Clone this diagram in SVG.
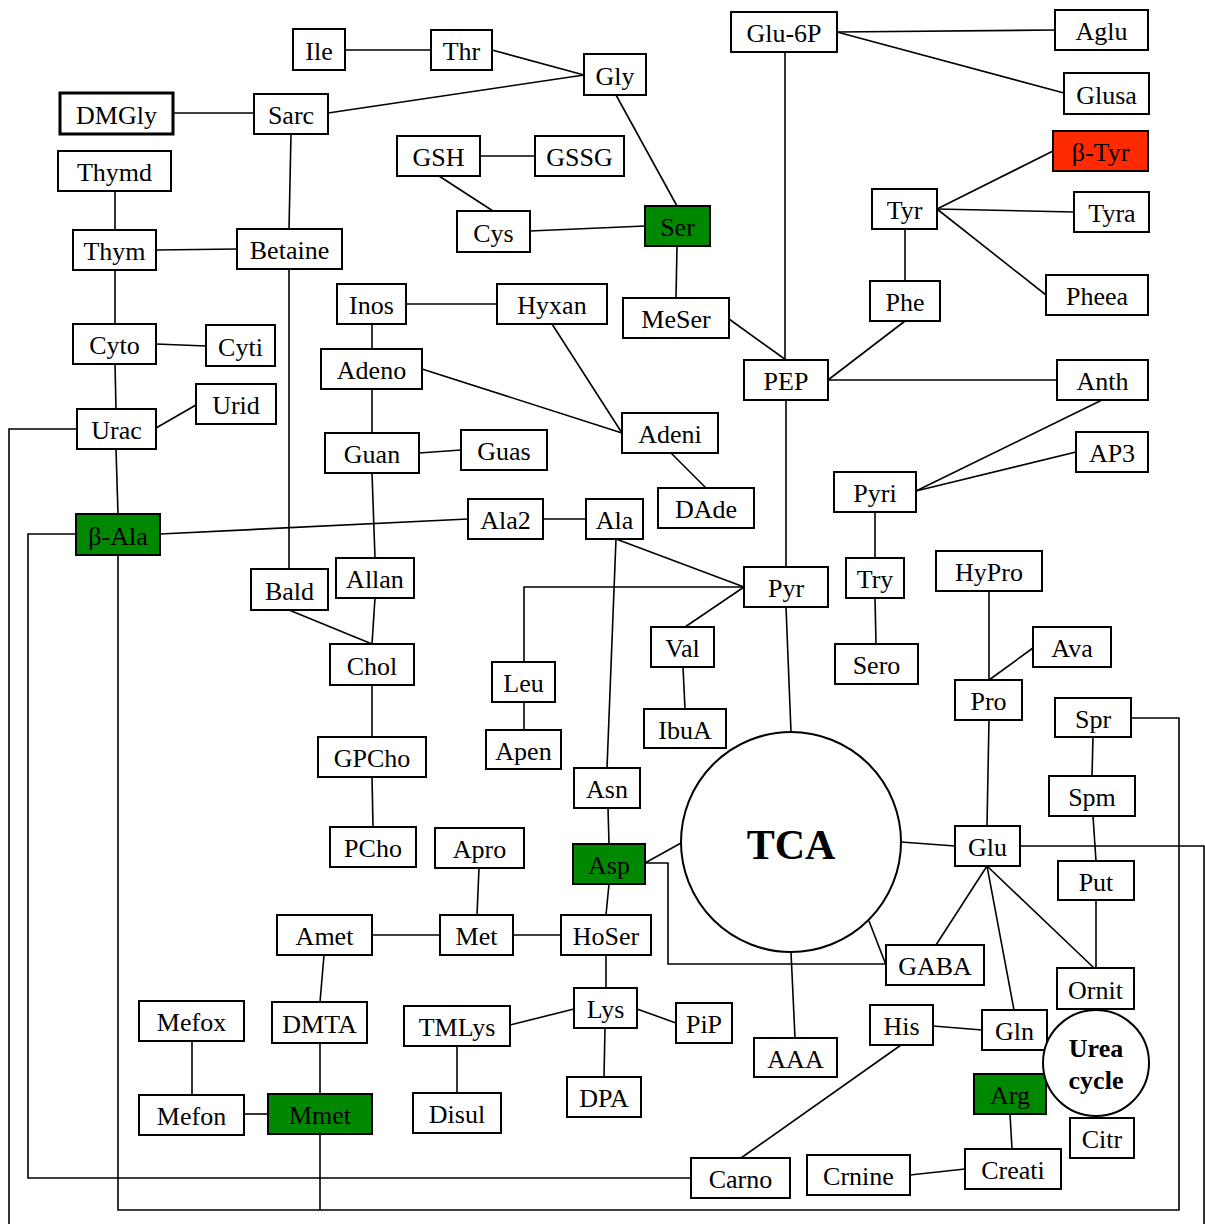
<svg xmlns="http://www.w3.org/2000/svg" width="1205" height="1224" viewBox="0 0 1205 1224">
<style>
rect{fill:#fff;stroke:#000;stroke-width:2}
rect.g{fill:#008800}
rect.r{fill:#ff2a00}
rect.thick{stroke-width:3}
circle{fill:#fff;stroke:#000;stroke-width:2}
text{font-family:"Liberation Serif","Times New Roman",serif;font-size:26px;text-anchor:middle;fill:#000}
text.b{font-weight:bold}
#connectors line,#connectors polyline{stroke:#000;stroke-width:1.6;fill:none}
</style>
<rect x="0" y="0" width="1205" height="1224" style="fill:#fff;stroke:none"/>
<g id="connectors">
<line x1="345" y1="50" x2="431" y2="50"/>
<line x1="492" y1="50" x2="584" y2="75"/>
<line x1="328" y1="113" x2="584" y2="75"/>
<line x1="173" y1="113" x2="254" y2="113"/>
<line x1="291" y1="134" x2="289" y2="229"/>
<line x1="115" y1="191" x2="115" y2="230"/>
<line x1="156" y1="250" x2="237" y2="249"/>
<line x1="115" y1="270" x2="115" y2="324"/>
<line x1="156" y1="344" x2="206" y2="346"/>
<line x1="115" y1="364" x2="116" y2="409"/>
<line x1="156" y1="428" x2="196" y2="405"/>
<polyline points="77,429 9,429 9,1224"/>
<line x1="116" y1="449" x2="118" y2="514"/>
<polyline points="76,534 28,534 28,1178 691,1178"/>
<polyline points="118,555 118,1210 1179,1210 1179,718 1131,718"/>
<line x1="320" y1="1134" x2="320" y2="1210"/>
<line x1="160" y1="534" x2="468" y2="519"/>
<line x1="543" y1="519" x2="586" y2="519"/>
<line x1="289" y1="269" x2="289" y2="569"/>
<line x1="289" y1="610" x2="372" y2="644"/>
<line x1="375" y1="598" x2="372" y2="644"/>
<line x1="372" y1="473" x2="375" y2="558"/>
<line x1="372" y1="389" x2="372" y2="433"/>
<line x1="372" y1="324" x2="372" y2="349"/>
<line x1="406" y1="304" x2="497" y2="304"/>
<line x1="552" y1="324" x2="622" y2="433"/>
<line x1="422" y1="369" x2="622" y2="433"/>
<line x1="419" y1="453" x2="461" y2="450"/>
<line x1="671" y1="453" x2="706" y2="488"/>
<line x1="372" y1="685" x2="372" y2="737"/>
<line x1="372" y1="777" x2="373" y2="827"/>
<line x1="480" y1="156" x2="535" y2="156"/>
<line x1="439" y1="176" x2="493" y2="211"/>
<line x1="530" y1="231" x2="645" y2="226"/>
<line x1="616" y1="95" x2="677" y2="206"/>
<line x1="677" y1="246" x2="676" y2="298"/>
<line x1="729" y1="319" x2="786" y2="360"/>
<line x1="785" y1="52" x2="785" y2="360"/>
<line x1="837" y1="32" x2="1055" y2="30"/>
<line x1="837" y1="32" x2="1064" y2="93"/>
<line x1="937" y1="209" x2="1053" y2="151"/>
<line x1="937" y1="209" x2="1074" y2="212"/>
<line x1="937" y1="209" x2="1046" y2="295"/>
<line x1="905" y1="229" x2="905" y2="281"/>
<line x1="905" y1="321" x2="828" y2="380"/>
<line x1="828" y1="380" x2="1057" y2="380"/>
<line x1="1102" y1="400" x2="916" y2="491"/>
<line x1="1076" y1="452" x2="916" y2="491"/>
<line x1="875" y1="512" x2="875" y2="558"/>
<line x1="875" y1="598" x2="876" y2="644"/>
<line x1="786" y1="400" x2="786" y2="567"/>
<line x1="616" y1="539" x2="744" y2="587"/>
<line x1="616" y1="539" x2="607" y2="768"/>
<polyline points="744,587 524,587 524,662"/>
<line x1="744" y1="587" x2="685" y2="627"/>
<line x1="683" y1="667" x2="685" y2="709"/>
<line x1="524" y1="702" x2="524" y2="730"/>
<line x1="786" y1="607" x2="791" y2="732"/>
<line x1="608" y1="808" x2="609" y2="844"/>
<line x1="645" y1="863" x2="681" y2="843"/>
<polyline points="645,863 668,863 668,964 886,964"/>
<line x1="869" y1="921" x2="886" y2="965"/>
<line x1="791" y1="952" x2="795" y2="1038"/>
<line x1="901" y1="842" x2="955" y2="846"/>
<polyline points="1020,846 1204,846 1204,1224"/>
<line x1="989" y1="591" x2="989" y2="680"/>
<line x1="1033" y1="648" x2="989" y2="680"/>
<line x1="989" y1="720" x2="987" y2="826"/>
<line x1="1093" y1="737" x2="1092" y2="776"/>
<line x1="1093" y1="816" x2="1096" y2="861"/>
<line x1="1096" y1="900" x2="1096" y2="968"/>
<line x1="987" y1="866" x2="1094" y2="968"/>
<line x1="987" y1="866" x2="936" y2="945"/>
<line x1="987" y1="866" x2="1014" y2="1010"/>
<line x1="933" y1="1026" x2="982" y2="1030"/>
<line x1="901" y1="1045" x2="741" y2="1158"/>
<line x1="1010" y1="1114" x2="1012" y2="1149"/>
<line x1="910" y1="1175" x2="965" y2="1169"/>
<line x1="479" y1="868" x2="477" y2="915"/>
<line x1="372" y1="935" x2="440" y2="935"/>
<line x1="513" y1="935" x2="561" y2="935"/>
<line x1="609" y1="884" x2="606" y2="915"/>
<line x1="606" y1="955" x2="606" y2="988"/>
<line x1="574" y1="1009" x2="510" y2="1025"/>
<line x1="637" y1="1009" x2="676" y2="1023"/>
<line x1="605" y1="1028" x2="604" y2="1077"/>
<line x1="457" y1="1046" x2="457" y2="1093"/>
<line x1="324" y1="955" x2="320" y2="1002"/>
<line x1="320" y1="1043" x2="320" y2="1094"/>
<line x1="192" y1="1041" x2="192" y2="1095"/>
<line x1="244" y1="1114" x2="268" y2="1114"/>
</g>
<g id="TCA"><circle cx="791" cy="842" r="110"/><text class="b" x="791" y="859" style="font-size:42px">TCA</text></g>
<g id="Ile"><rect x="293" y="29" width="52" height="41"/><text x="319" y="60">Ile</text></g>
<g id="Thr"><rect x="431" y="30" width="61" height="40"/><text x="461.5" y="60">Thr</text></g>
<g id="Gly"><rect x="584" y="54" width="62" height="41"/><text x="615" y="85">Gly</text></g>
<g id="DMGly"><rect class="thick" x="60" y="93" width="113" height="41"/><text x="116.5" y="124">DMGly</text></g>
<g id="Sarc"><rect x="254" y="94" width="74" height="40"/><text x="291" y="124">Sarc</text></g>
<g id="Glu-6P"><rect x="731" y="12" width="106" height="40"/><text x="784" y="42">Glu-6P</text></g>
<g id="Aglu"><rect x="1055" y="10" width="93" height="40"/><text x="1101.5" y="40">Aglu</text></g>
<g id="Glusa"><rect x="1064" y="73" width="85" height="41"/><text x="1106.5" y="104">Glusa</text></g>
<g id="beta-Tyr"><rect class="r" x="1053" y="131" width="95" height="40"/><text x="1100.5" y="161">β-Tyr</text></g>
<g id="Tyr"><rect x="872" y="189" width="65" height="40"/><text x="904.5" y="219">Tyr</text></g>
<g id="Tyra"><rect x="1074" y="192" width="75" height="40"/><text x="1112" y="222">Tyra</text></g>
<g id="Pheea"><rect x="1046" y="275" width="102" height="40"/><text x="1097" y="305">Pheea</text></g>
<g id="Phe"><rect x="870" y="281" width="70" height="40"/><text x="905" y="311">Phe</text></g>
<g id="PEP"><rect x="744" y="360" width="84" height="40"/><text x="786" y="390">PEP</text></g>
<g id="Anth"><rect x="1057" y="360" width="91" height="40"/><text x="1102.5" y="390">Anth</text></g>
<g id="GSH"><rect x="397" y="136" width="83" height="40"/><text x="438.5" y="166">GSH</text></g>
<g id="GSSG"><rect x="535" y="136" width="89" height="40"/><text x="579.5" y="166">GSSG</text></g>
<g id="Cys"><rect x="457" y="211" width="73" height="41"/><text x="493.5" y="242">Cys</text></g>
<g id="Ser"><rect class="g" x="645" y="206" width="65" height="40"/><text x="677.5" y="236">Ser</text></g>
<g id="MeSer"><rect x="623" y="298" width="106" height="40"/><text x="676" y="328">MeSer</text></g>
<g id="Thymd"><rect x="58" y="151" width="113" height="40"/><text x="114.5" y="181">Thymd</text></g>
<g id="Thym"><rect x="73" y="230" width="83" height="40"/><text x="114.5" y="260">Thym</text></g>
<g id="Betaine"><rect x="237" y="229" width="105" height="40"/><text x="289.5" y="259">Betaine</text></g>
<g id="Inos"><rect x="337" y="284" width="69" height="40"/><text x="371.5" y="314">Inos</text></g>
<g id="Hyxan"><rect x="497" y="284" width="110" height="40"/><text x="552" y="314">Hyxan</text></g>
<g id="Cyto"><rect x="73" y="324" width="83" height="40"/><text x="114.5" y="354">Cyto</text></g>
<g id="Cyti"><rect x="206" y="325" width="69" height="41"/><text x="240.5" y="356">Cyti</text></g>
<g id="Adeno"><rect x="321" y="349" width="101" height="40"/><text x="371.5" y="379">Adeno</text></g>
<g id="Urid"><rect x="196" y="384" width="80" height="40"/><text x="236" y="414">Urid</text></g>
<g id="Urac"><rect x="77" y="409" width="79" height="40"/><text x="116.5" y="439">Urac</text></g>
<g id="Adeni"><rect x="622" y="413" width="96" height="40"/><text x="670" y="443">Adeni</text></g>
<g id="Guan"><rect x="325" y="433" width="94" height="40"/><text x="372" y="463">Guan</text></g>
<g id="Guas"><rect x="461" y="430" width="86" height="40"/><text x="504" y="460">Guas</text></g>
<g id="DAde"><rect x="658" y="488" width="96" height="40"/><text x="706" y="518">DAde</text></g>
<g id="AP3"><rect x="1076" y="432" width="72" height="40"/><text x="1112" y="462">AP3</text></g>
<g id="Pyri"><rect x="834" y="472" width="82" height="40"/><text x="875" y="502">Pyri</text></g>
<g id="beta-Ala"><rect class="g" x="76" y="514" width="84" height="41"/><text x="118" y="545">β-Ala</text></g>
<g id="Ala2"><rect x="468" y="499" width="75" height="40"/><text x="505.5" y="529">Ala2</text></g>
<g id="Ala"><rect x="586" y="499" width="57" height="40"/><text x="614.5" y="529">Ala</text></g>
<g id="Bald"><rect x="251" y="569" width="77" height="41"/><text x="289.5" y="600">Bald</text></g>
<g id="Allan"><rect x="336" y="558" width="78" height="40"/><text x="375" y="588">Allan</text></g>
<g id="Pyr"><rect x="744" y="567" width="84" height="40"/><text x="786" y="597">Pyr</text></g>
<g id="Try"><rect x="846" y="558" width="58" height="40"/><text x="875" y="588">Try</text></g>
<g id="HyPro"><rect x="936" y="551" width="106" height="40"/><text x="989" y="581">HyPro</text></g>
<g id="Val"><rect x="651" y="627" width="63" height="40"/><text x="682.5" y="657">Val</text></g>
<g id="Ava"><rect x="1033" y="627" width="78" height="40"/><text x="1072" y="657">Ava</text></g>
<g id="Sero"><rect x="835" y="644" width="83" height="40"/><text x="876.5" y="674">Sero</text></g>
<g id="Chol"><rect x="330" y="644" width="84" height="41"/><text x="372" y="675">Chol</text></g>
<g id="Leu"><rect x="492" y="662" width="63" height="40"/><text x="523.5" y="692">Leu</text></g>
<g id="Pro"><rect x="955" y="680" width="67" height="40"/><text x="988.5" y="710">Pro</text></g>
<g id="Spr"><rect x="1055" y="698" width="76" height="39"/><text x="1093" y="728">Spr</text></g>
<g id="IbuA"><rect x="644" y="709" width="82" height="39"/><text x="685" y="739">IbuA</text></g>
<g id="Apen"><rect x="486" y="730" width="75" height="39"/><text x="523.5" y="760">Apen</text></g>
<g id="GPCho"><rect x="318" y="737" width="108" height="40"/><text x="372" y="767">GPCho</text></g>
<g id="Asn"><rect x="574" y="768" width="66" height="40"/><text x="607" y="798">Asn</text></g>
<g id="Spm"><rect x="1049" y="776" width="86" height="40"/><text x="1092" y="806">Spm</text></g>
<g id="PCho"><rect x="330" y="827" width="86" height="40"/><text x="373" y="857">PCho</text></g>
<g id="Apro"><rect x="435" y="828" width="89" height="40"/><text x="479.5" y="858">Apro</text></g>
<g id="Glu"><rect x="955" y="826" width="65" height="40"/><text x="987.5" y="856">Glu</text></g>
<g id="Asp"><rect class="g" x="573" y="844" width="72" height="40"/><text x="609" y="874">Asp</text></g>
<g id="Put"><rect x="1058" y="861" width="76" height="39"/><text x="1096" y="891">Put</text></g>
<g id="Amet"><rect x="277" y="915" width="95" height="40"/><text x="324.5" y="945">Amet</text></g>
<g id="Met"><rect x="440" y="915" width="73" height="40"/><text x="476.5" y="945">Met</text></g>
<g id="HoSer"><rect x="561" y="915" width="90" height="40"/><text x="606" y="945">HoSer</text></g>
<g id="GABA"><rect x="886" y="945" width="98" height="40"/><text x="935" y="975">GABA</text></g>
<g id="Ornit"><rect x="1057" y="968" width="77" height="41"/><text x="1095.5" y="999">Ornit</text></g>
<g id="Lys"><rect x="574" y="988" width="63" height="40"/><text x="605.5" y="1018">Lys</text></g>
<g id="Mefox"><rect x="139" y="1001" width="105" height="40"/><text x="191.5" y="1031">Mefox</text></g>
<g id="DMTA"><rect x="272" y="1002" width="95" height="41"/><text x="319.5" y="1033">DMTA</text></g>
<g id="TMLys"><rect x="404" y="1006" width="106" height="40"/><text x="457" y="1036">TMLys</text></g>
<g id="PiP"><rect x="676" y="1003" width="56" height="40"/><text x="704" y="1033">PiP</text></g>
<g id="His"><rect x="870" y="1005" width="63" height="40"/><text x="901.5" y="1035">His</text></g>
<g id="Gln"><rect x="982" y="1010" width="65" height="40"/><text x="1014.5" y="1040">Gln</text></g>
<g id="AAA"><rect x="754" y="1038" width="83" height="39"/><text x="795.5" y="1068">AAA</text></g>
<g id="DPA"><rect x="567" y="1077" width="74" height="40"/><text x="604" y="1107">DPA</text></g>
<g id="Disul"><rect x="413" y="1093" width="88" height="40"/><text x="457" y="1123">Disul</text></g>
<g id="Mefon"><rect x="139" y="1095" width="105" height="40"/><text x="191.5" y="1125">Mefon</text></g>
<g id="Mmet"><rect class="g" x="268" y="1094" width="104" height="40"/><text x="320" y="1124">Mmet</text></g>
<g id="Arg"><rect class="g" x="974" y="1074" width="72" height="40"/><text x="1010" y="1104">Arg</text></g>
<g id="Urea-cycle"><circle cx="1096" cy="1063" r="53"/><text class="b" x="1096" y="1057">Urea</text><text class="b" x="1096" y="1089">cycle</text></g>
<g id="Citr"><rect x="1070" y="1118" width="64" height="40"/><text x="1102" y="1148">Citr</text></g>
<g id="Creati"><rect x="965" y="1149" width="96" height="40"/><text x="1013" y="1179">Creati</text></g>
<g id="Crnine"><rect x="807" y="1155" width="103" height="40"/><text x="858.5" y="1185">Crnine</text></g>
<g id="Carno"><rect x="691" y="1158" width="99" height="40"/><text x="740.5" y="1188">Carno</text></g>
</svg>
